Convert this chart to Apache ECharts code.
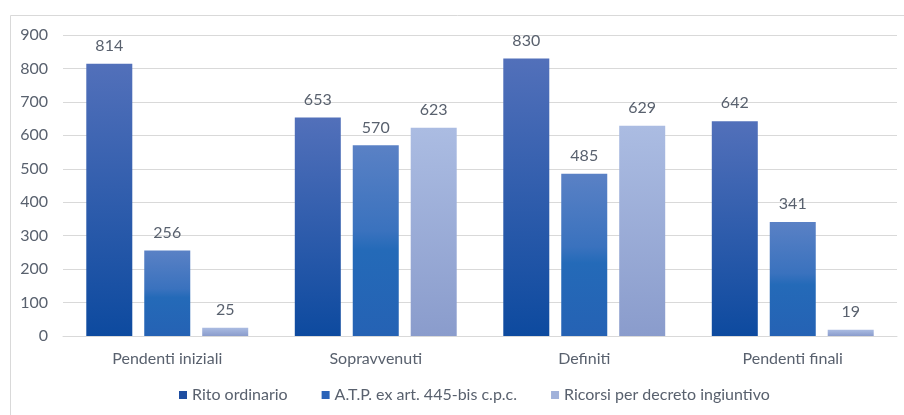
<!DOCTYPE html>
<html><head><meta charset="utf-8">
<script src="https://cdn.jsdelivr.net/npm/echarts@6/dist/echarts.min.js"></script>
<style>html,body{margin:0;padding:0;background:#fff}#c{width:904px;height:415px}</style>
</head><body><div id="c"></div>
<script>
const categories = ['Pendenti iniziali', 'Sopravvenuti', 'Definiti', 'Pendenti finali'];
const seriesNames = ['Rito ordinario', 'A.T.P. ex art. 445-bis c.p.c.', 'Ricorsi per decreto ingiuntivo'];
const ritoOrdinario = [814, 653, 830, 642];
const atp = [256, 570, 485, 341];
const ricorsi = [25, 623, 629, 19];
const yTicks = [0, 100, 200, 300, 400, 500, 600, 700, 800, 900];

const grads = [
  [[0, '#5270ba'], [1, '#0d4a9f']],
  [[0, '#5a81c5'], [0.45, '#3a72be'], [0.55, '#246ab8'], [1, '#2562b4']],
  [[0, '#abbce2'], [1, '#8a9ccc']]
];
const legendCols = ['#1f4ea1', '#2a63b8', '#a0b1da'];
const font = 'Lato, "Open Sans", sans-serif';
const txt = '#59616e';

function mkGrad(stops) {
  return new echarts.graphic.LinearGradient(0, 0, 0, 1, stops.map(s => ({offset: s[0], color: s[1]})));
}

const chart = echarts.init(document.getElementById('c'));
const data = [ritoOrdinario, atp, ricorsi];
chart.setOption({
  animation: false,
  graphic: [{type: 'rect', shape: {x: 10.5, y: 15.5, width: 1000, height: 1000}, style: {fill: 'none', stroke: '#d9d9d9', lineWidth: 1}, silent: true}],
  grid: {left: 63, right: 7, top: 35, bottom: 79},
  legend: {
    bottom: 7, left: 174, itemWidth: 8, itemHeight: 8, itemGap: 34, icon: 'rect',
    textStyle: {fontFamily: font, fontSize: 16, color: txt},
    data: seriesNames.map((n, i) => ({name: n, itemStyle: {color: legendCols[i]}}))
  },
  xAxis: {
    type: 'category', data: categories,
    axisLine: {lineStyle: {color: '#d9d9d9'}}, axisTick: {show: false},
    axisLabel: {fontFamily: font, fontSize: 16, color: txt, margin: 15}
  },
  yAxis: {
    type: 'value', min: yTicks[0], max: yTicks[yTicks.length - 1], interval: 100,
    axisLine: {show: false}, axisTick: {show: false},
    splitLine: {lineStyle: {color: '#d9d9d9', width: 1}},
    axisLabel: {fontFamily: font, fontSize: 16, color: txt, margin: 15}
  },
  series: data.map((d, i) => ({
    type: 'bar', name: seriesNames[i], data: d, barWidth: 46, barGap: '26%',
    itemStyle: {color: mkGrad(grads[i])},
    label: {show: true, position: 'top', distance: 10, fontFamily: font, fontSize: 16, color: txt}
  }))
});
</script></body></html>
